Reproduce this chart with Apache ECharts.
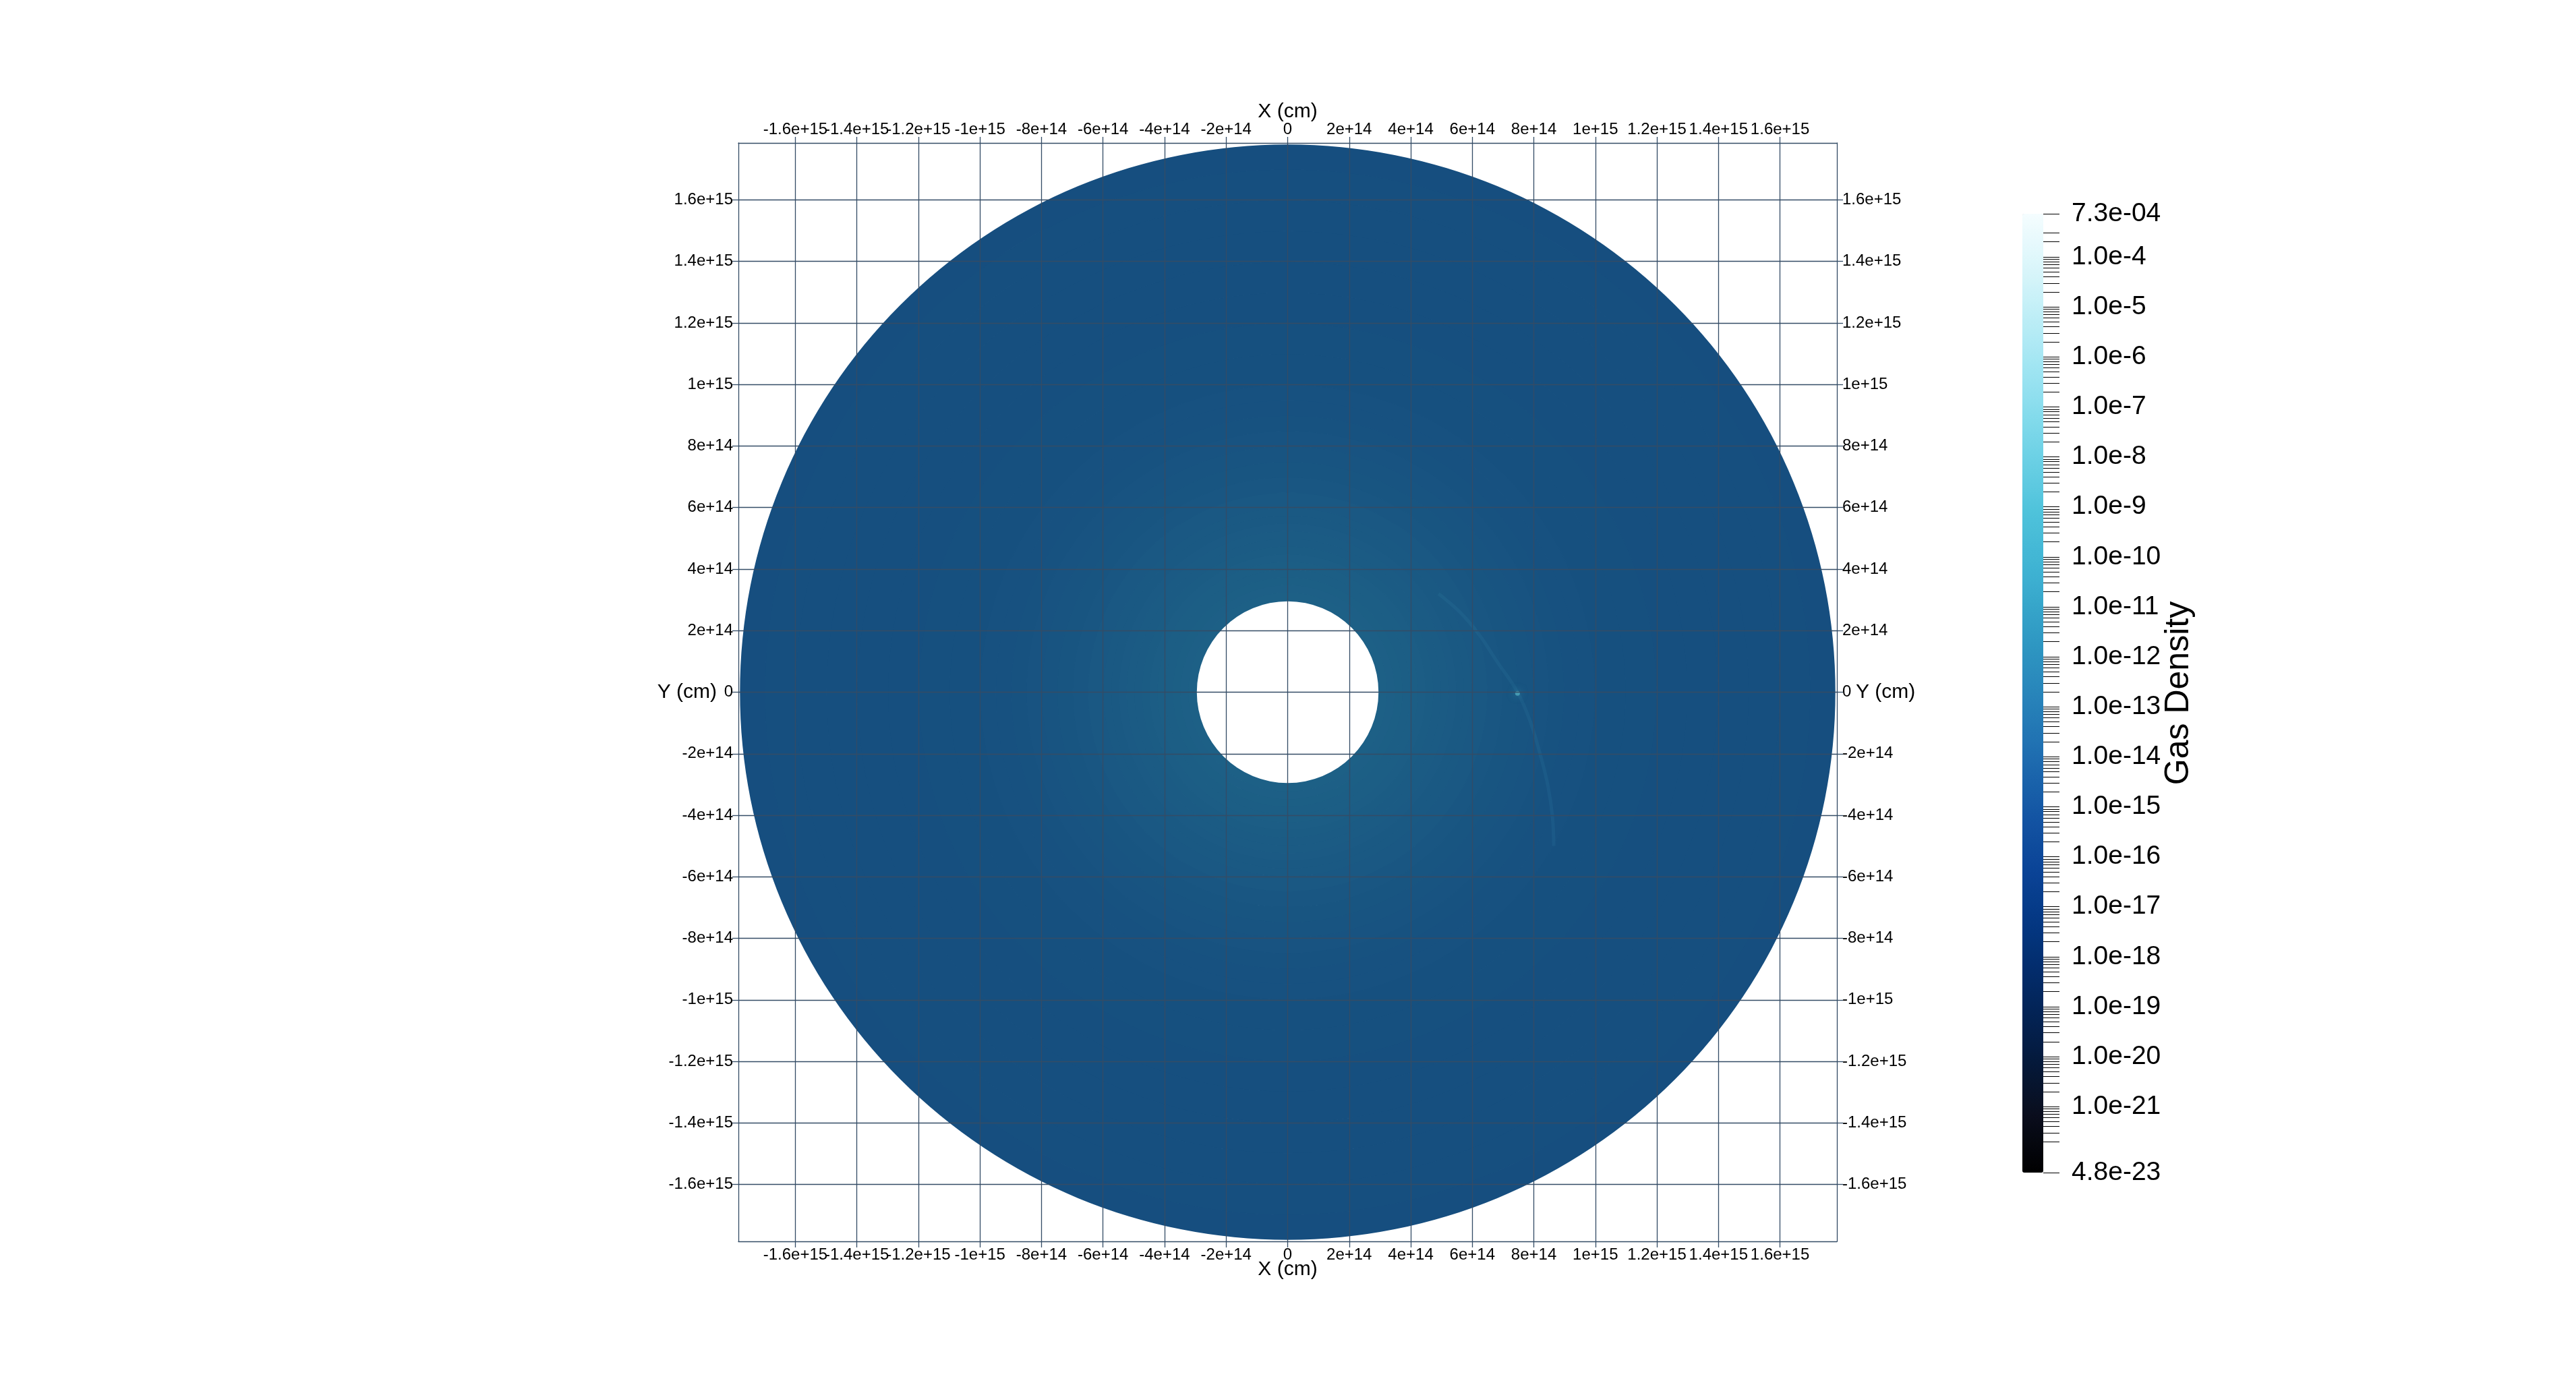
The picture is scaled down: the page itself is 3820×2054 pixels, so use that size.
<!DOCTYPE html>
<html>
<head>
<meta charset="utf-8">
<script src="https://cdn.jsdelivr.net/npm/echarts@6/dist/echarts.min.js"></script>
<style>
html,body{margin:0;padding:0;background:#ffffff;}
#chart{width:3820px;height:2054px;}
</style>
</head>
<body>
<div id="chart"></div>
<script>
// ---------------- data ----------------
// ring edges of the disk (cm) and log10 gas density in each ring
const ringEdges = [2.97e14, 3.25e14, 3.5e14, 3.75e14, 4.0e14, 4.25e14, 4.5e14, 4.75e14, 5.0e14, 5.25e14,
  5.5e14, 5.75e14, 6.0e14, 6.5e14, 7.0e14, 7.5e14, 8.0e14, 8.5e14, 9.0e14, 9.5e14,
  1.0e15, 1.1e15, 1.2e15, 1.3e15, 1.4e15, 1.5e15, 1.6e15, 1.7e15, 1.78e15];
const ringLogRho = [-12.75, -12.78, -12.82, -12.86, -12.90, -12.95, -13.00, -13.05, -13.10, -13.15,
  -13.20, -13.25, -13.30, -13.40, -13.50, -13.58, -13.65, -13.72, -13.78, -13.82,
  -13.86, -13.88, -13.90, -13.92, -13.93, -13.95, -13.96, -13.97];
// faint spiral wake through the embedded object
const wakeX = [4.9e14, 5.6e14, 6.2e14, 6.8e14, 7.47e14, 7.9e14, 8.2e14, 8.45e14, 8.6e14, 8.65e14];
const wakeY = [3.2e14, 2.6e14, 1.9e14, 1.0e14, 0, -1.0e14, -2.0e14, -3.0e14, -4.0e14, -5.0e14];
// embedded bright point
const planetX = [7.47e14];
const planetY = [-0.04e14];

// axes
const axisMin = -1.785e15, axisMax = 1.785e15;
const xTickValues = [-1.6e15, -1.4e15, -1.2e15, -1e15, -8e14, -6e14, -4e14, -2e14, 0,
  2e14, 4e14, 6e14, 8e14, 1e15, 1.2e15, 1.4e15, 1.6e15];
const yTickValues = [-1.6e15, -1.4e15, -1.2e15, -1e15, -8e14, -6e14, -4e14, -2e14, 0,
  2e14, 4e14, 6e14, 8e14, 1e15, 1.2e15, 1.4e15, 1.6e15];

// colour bar
const rhoMin = 4.8e-23, rhoMax = 7.3e-4;
const cbarLabelExps = [-4, -5, -6, -7, -8, -9, -10, -11, -12, -13, -14, -15, -16, -17, -18, -19, -20, -21];
const cbarEndTexts = ['4.8e-23', '7.3e-04'];
const cbarMinorMult = [1, 2, 3, 4, 5, 6, 7, 8, 9];
const cbarTickLow = 2e-22, cbarTickHigh = 3e-4;
// colour map sampled at evenly spaced positions, bottom (min) to top (max)
const cmapColors = ['#000000', '#0a0e1e', '#041b40', '#032760', '#03357e', '#0a4396', '#1456a4',
  '#1f6eb1', '#2885ba', '#309bc4', '#3eb2d2', '#4ec2db', '#6ed2e6', '#91e0ef', '#b4ebf5', '#d7f5fa', '#f5fdff'];
const diskShade = 0.72;

// ---------------- build ----------------
const cbMin = Math.log10(rhoMin), cbMax = Math.log10(rhoMax);
const shaded = cmapColors.map(function (h) {
  const r = parseInt(h.substr(1, 2), 16), g = parseInt(h.substr(3, 2), 16), b = parseInt(h.substr(5, 2), 16);
  return 'rgb(' + Math.round(r * diskShade) + ',' + Math.round(g * diskShade) + ',' + Math.round(b * diskShade) + ')';
});
const ringData = ringLogRho.map(function (v, i) { return [ringEdges[i], ringEdges[i + 1], v]; });
const wakeData = wakeX.map(function (x, i) { return [x, wakeY[i]]; });
const planetData = planetX.map(function (x, i) { return [x, planetY[i]]; });

const cbarLabelValues = [cbMin, cbMax].concat(cbarLabelExps);
const cbarLabelTexts = cbarEndTexts.concat(cbarLabelExps.map(function (e) { return '1.0e' + e; }));
const cbarTickValues = [cbMin, cbMax];
for (let d = -23; d <= -4; d++) {
  cbarMinorMult.forEach(function (m) {
    const v = Math.log10(m) + d;
    if (v >= Math.log10(cbarTickLow) - 1e-9 && v <= Math.log10(cbarTickHigh) + 1e-9) cbarTickValues.push(v);
  });
}
cbarTickValues.sort(function (a, b) { return a - b; });

const FONT = 'Liberation Sans';
const GRID_COLOR = '#344c66';

// an empty label sits at the axis minimum so that the crowded, overlapping
// left-hand tick labels are all kept (as in the reference)
function sciFmt(v) {
  if (v <= axisMin) return '';
  return v === 0 ? '0' : v.toExponential();
}

function mainAxis(position, ticks, showSplit, name, nameGap) {
  return {
    type: 'value', gridIndex: 0, position: position, min: axisMin, max: axisMax, z: 10,
    name: name, nameLocation: 'middle', nameGap: nameGap, nameRotate: 0, nameMoveOverlap: false,
    nameTextStyle: { fontFamily: FONT, fontSize: 30, color: '#000' },
    axisLine: { show: true, onZero: false, lineStyle: { color: GRID_COLOR, width: 1.3 } },
    axisTick: { show: true, inside: false, length: 9, customValues: ticks, lineStyle: { color: GRID_COLOR, width: 1.3 } },
    axisLabel: { show: true, customValues: [axisMin].concat(ticks), margin: 8, fontFamily: FONT, fontSize: 24, color: '#000',
      showMinLabel: true, showMaxLabel: true, hideOverlap: false, formatter: sciFmt },
    splitLine: { show: showSplit, lineStyle: { color: GRID_COLOR, width: 1.3 } }
  };
}

function renderRing(params, api) {
  const c = api.coord([0, 0]);
  const r0 = api.size([api.value(0), 0])[0];
  const r1 = api.size([api.value(1), 0])[0];
  return {
    type: 'sector',
    shape: { cx: c[0], cy: c[1], r0: Math.max(0, r0 - 0.8), r: r1, startAngle: 0, endAngle: Math.PI * 2 },
    style: { fill: api.visual('color') }
  };
}

const chart = echarts.init(document.getElementById('chart'), null, { renderer: 'canvas' });
chart.setOption({
  backgroundColor: '#ffffff',
  animation: false,
  grid: [
    { left: 1095, top: 212, width: 1629, height: 1629, containLabel: false },
    { left: 2999, top: 317, width: 31, height: 1422, containLabel: false }
  ],
  xAxis: [
    mainAxis('bottom', xTickValues, true, 'X (cm)', 27),
    mainAxis('top', xTickValues, false, 'X (cm)', 31),
    { type: 'value', gridIndex: 1, show: false, min: 1, max: 2 }
  ],
  yAxis: [
    mainAxis('left', yTickValues, true, 'Y (cm)', 32),
    mainAxis('right', yTickValues, false, 'Y (cm)', 28),
    {
      type: 'value', gridIndex: 1, position: 'right', min: cbMin, max: cbMax, z: 10,
      name: 'Gas Density', nameLocation: 'middle', nameGap: 176, nameMoveOverlap: false,
      nameTextStyle: { fontFamily: FONT, fontSize: 50, color: '#000' },
      axisLine: { show: true, onZero: false, lineStyle: { color: '#000', opacity: 0 } },
      axisTick: { show: true, inside: false, length: 24, customValues: cbarTickValues, lineStyle: { color: '#000', width: 1 } },
      axisLabel: {
        show: true, customValues: cbarLabelValues, margin: 42, fontFamily: FONT, fontSize: 39, color: '#000',
        showMinLabel: true, showMaxLabel: true, hideOverlap: false,
        formatter: function (v) {
          for (let i = 0; i < cbarLabelValues.length; i++) {
            if (Math.abs(cbarLabelValues[i] - v) < 1e-6) return cbarLabelTexts[i];
          }
          return '';
        }
      },
      splitLine: { show: false }
    }
  ],
  visualMap: [
    {
      type: 'continuous', show: false, seriesIndex: [0], dimension: 2,
      min: cbMin, max: cbMax, inRange: { color: shaded }
    },
    {
      type: 'continuous', show: true, seriesIndex: [3], calculable: false, hoverLink: false,
      orient: 'vertical', left: 2999, top: 317, itemWidth: 31, itemHeight: 1422, padding: 0,
      min: cbMin, max: cbMax, inRange: { color: cmapColors }
    }
  ],
  series: [
    {
      type: 'custom', name: 'Gas Density', xAxisIndex: 0, yAxisIndex: 0, z: 2,
      renderItem: renderRing, data: ringData, silent: true
    },
    {
      type: 'line', xAxisIndex: 0, yAxisIndex: 0, z: 3, data: wakeData, smooth: 0.4, symbol: 'none',
      lineStyle: { color: 'rgba(50,130,165,0.18)', width: 5 }, silent: true
    },
    {
      type: 'scatter', xAxisIndex: 0, yAxisIndex: 0, z: 4, data: planetData, symbolSize: 7,
      itemStyle: { color: '#4fa8bc', shadowBlur: 12, shadowColor: 'rgba(70,170,190,0.8)' }, silent: true
    },
    { type: 'scatter', xAxisIndex: 2, yAxisIndex: 2, data: [] }
  ]
});
</script>
</body>
</html>
